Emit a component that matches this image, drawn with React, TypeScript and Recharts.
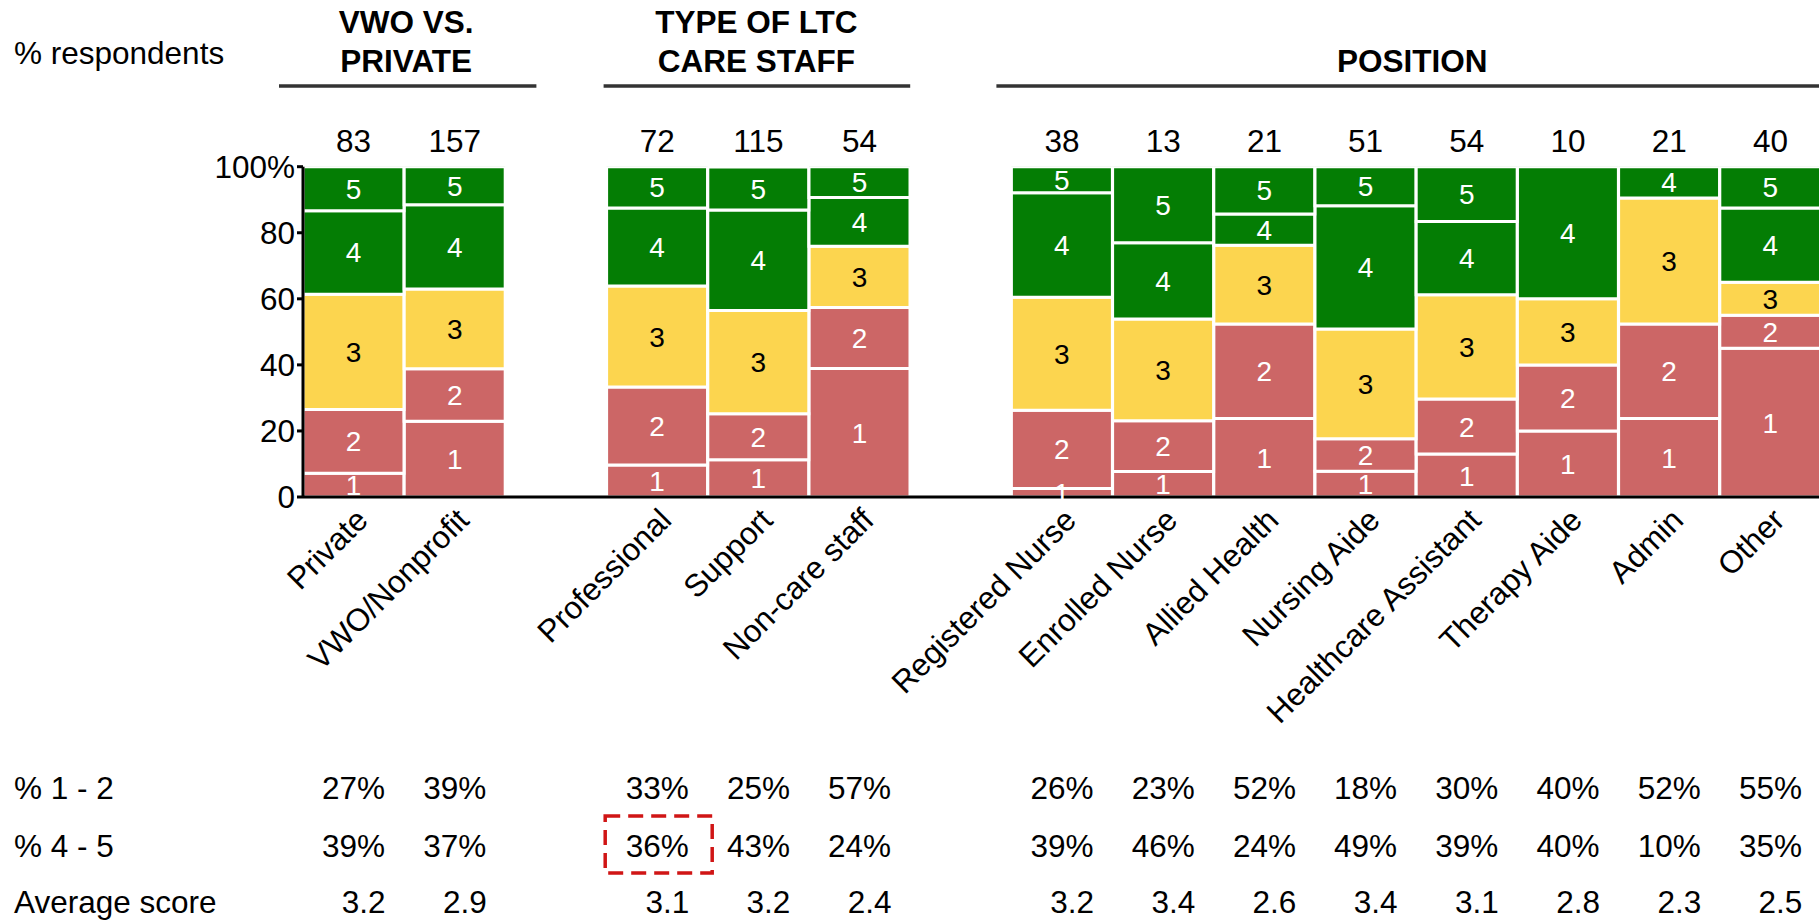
import React from 'react';
import { ComposedChart, Bar, Line, XAxis, YAxis, LabelList } from 'recharts';

// ---------- data ----------
const CATEGORIES = ['Private', 'VWO/Nonprofit', '', 'Professional', 'Support', 'Non-care staff', '', 'Registered Nurse', 'Enrolled Nurse', 'Allied Health', 'Nursing Aide', 'Healthcare Assistant', 'Therapy Aide', 'Admin', 'Other'];
const RESPONDENTS = [83, 157, null, 72, 115, 54, null, 38, 13, 21, 51, 54, 10, 21, 40];
const SCORE_1 = [7.2, 22.9, null, 9.7, 11.3, 38.9, null, 2.6, 7.7, 23.8, 7.8, 13.0, 20, 23.8, 45];
const SCORE_2 = [19.3, 15.9, null, 23.6, 13.9, 18.5, null, 23.7, 15.4, 28.6, 9.8, 16.7, 20, 28.6, 10];
const SCORE_3 = [34.9, 24.2, null, 30.6, 31.3, 18.5, null, 34.2, 30.8, 23.8, 33.3, 31.5, 20, 38.1, 10];
const SCORE_4 = [25.3, 25.5, null, 23.6, 30.4, 14.8, null, 31.6, 23.1, 9.5, 37.3, 22.2, 40, 9.5, 22.5];
const SCORE_5 = [13.3, 11.5, null, 12.5, 13.0, 9.3, null, 7.9, 23.0, 14.3, 11.8, 16.6, 0, 0, 12.5];
const PCT_1_2 = ['27%', '39%', null, '33%', '25%', '57%', null, '26%', '23%', '52%', '18%', '30%', '40%', '52%', '55%'];
const PCT_4_5 = ['39%', '37%', null, '36%', '43%', '24%', null, '39%', '46%', '24%', '49%', '39%', '40%', '10%', '35%'];
const AVG_SCORE = ['3.2', '2.9', null, '3.1', '3.2', '2.4', null, '3.2', '3.4', '2.6', '3.4', '3.1', '2.8', '2.3', '2.5'];
const Y_TICKS = [0, 20, 40, 60, 80, 100];
const GROUPS = [
  { title: ['VWO VS.', 'PRIVATE'], from: 0, to: 1, padL: 24, padR: 31, shift: 2 },
  { title: ['TYPE OF LTC', 'CARE STAFF'], from: 3, to: 5, padL: 3, padR: 0, shift: -2 },
  { title: ['POSITION'], from: 7, to: 14, padL: 15, padR: 20, shift: -4 },
];
const ROW_LABELS = ['% 1 - 2', '% 4 - 5', 'Average score'];
const HIGHLIGHT_INDEX = 3;

const data = CATEGORIES.map((name, i) => ({
  name,
  s1: SCORE_1[i],
  s2: SCORE_2[i],
  s3: SCORE_3[i],
  s4: SCORE_4[i],
  s5: SCORE_5[i],
  n: RESPONDENTS[i],
  top: RESPONDENTS[i] == null ? null : 100,
  p12: PCT_1_2[i],
  p45: PCT_4_5[i],
  avg: AVG_SCORE[i],
}));

// ---------- layout ----------
const W = 1830;
const H = 920;
const PLOT_LEFT = 303;
const PLOT_TOP = 166.7;
const PLOT_BOTTOM = 497;
const MARGIN_RIGHT = 9;
const XAXIS_H = 100;
const SLOT = (W - MARGIN_RIGHT - PLOT_LEFT) / CATEGORIES.length;
const ROW_Y = [799, 857, 913];
const FONT = 31.5;

const GREEN = '#047d04';
const YELLOW = '#fcd54f';
const RED = '#cc6666';

const segLabel = (color: string, text: string) => (props: any) => {
  const { x, y, width, height, value } = props;
  if (!value) return null;
  return (
    <text x={x + width / 2} y={y + height / 2} dy="0.36em" textAnchor="middle" fill={color} fontSize={28}>
      {text}
    </text>
  );
};

const XTick = (props: any) => {
  const { x, payload } = props;
  if (!payload || !payload.value) return null;
  const ax = x + 16;
  const ay = PLOT_BOTTOM + 25;
  return (
    <text x={ax} y={ay} transform={`rotate(-45, ${ax}, ${ay})`} textAnchor="end" fontSize={FONT} fill="#000">
      {payload.value}
    </text>
  );
};

const countLabel = (props: any) => {
  const { x, y, value } = props;
  if (value == null) return null;
  return (
    <text x={x} y={y - 15} textAnchor="middle" fontSize={FONT} fill="#000">{value}</text>
  );
};

const rowLabel = (row: number) => (props: any) => {
  const { x, value, index } = props;
  if (value == null) return null;
  const isAvg = row === 2;
  return (
    <g>
      <text x={isAvg ? x + 32 : x} y={ROW_Y[row]} textAnchor={isAvg ? 'end' : 'middle'} fontSize={FONT} fill="#000">
        {value}
      </text>
      {row === 1 && index === HIGHLIGHT_INDEX ? (
        <rect x={x - 52} y={816} width={107} height={57} fill="none" stroke="#d01515" strokeWidth={3.5} strokeDasharray="15 8" />
      ) : null}
    </g>
  );
};

export default function App() {
  return (
    <div
      style={{
        position: 'absolute',
        left: 0,
        top: 0,
        width: 1819,
        height: 920,
        overflow: 'hidden',
        background: '#fff',
        fontFamily: '"Liberation Sans", Arial, sans-serif',
      }}
    >
      <ComposedChart
        width={W}
        height={H}
        data={data}
        margin={{ top: PLOT_TOP, right: MARGIN_RIGHT, bottom: H - PLOT_BOTTOM - XAXIS_H, left: 0 }}
        barCategoryGap={0}
        barGap={0}
      >
        <YAxis
          width={PLOT_LEFT}
          domain={[0, 100]}
          allowDataOverflow
          ticks={Y_TICKS}
          tickFormatter={(v: number) => (v === 100 ? '100%' : String(v))}
          tick={{ fontSize: FONT, fill: '#000' }}
          axisLine={{ stroke: '#000', strokeWidth: 3 }}
          tickLine={{ stroke: '#000', strokeWidth: 3 }}
          tickSize={6}
          tickMargin={2}
        />
        <Bar dataKey="s1" stackId="a" fill={RED} stroke="#fff" strokeWidth={3} isAnimationActive={false}>
          <LabelList dataKey="s1" content={segLabel('#fff', '1')} />
        </Bar>
        <Bar dataKey="s2" stackId="a" fill={RED} stroke="#fff" strokeWidth={3} isAnimationActive={false}>
          <LabelList dataKey="s2" content={segLabel('#fff', '2')} />
        </Bar>
        <Bar dataKey="s3" stackId="a" fill={YELLOW} stroke="#fff" strokeWidth={3} isAnimationActive={false}>
          <LabelList dataKey="s3" content={segLabel('#000', '3')} />
        </Bar>
        <Bar dataKey="s4" stackId="a" fill={GREEN} stroke="#fff" strokeWidth={3} isAnimationActive={false}>
          <LabelList dataKey="s4" content={segLabel('#fff', '4')} />
        </Bar>
        <Bar dataKey="s5" stackId="a" fill={GREEN} stroke="#fff" strokeWidth={3} isAnimationActive={false}>
          <LabelList dataKey="s5" content={segLabel('#fff', '5')} />
        </Bar>
        <Line dataKey="top" stroke="none" dot={false} activeDot={false} isAnimationActive={false} legendType="none">
          <LabelList dataKey="n" content={countLabel} />
          <LabelList dataKey="p12" content={rowLabel(0)} />
          <LabelList dataKey="p45" content={rowLabel(1)} />
          <LabelList dataKey="avg" content={rowLabel(2)} />
        </Line>
        <XAxis
          dataKey="name"
          height={XAXIS_H}
          tick={<XTick />}
          tickLine={false}
          interval={0}
          axisLine={{ stroke: '#000', strokeWidth: 3 }}
        />
      </ComposedChart>
      <svg
        width={1819}
        height={920}
        style={{ position: 'absolute', left: 0, top: 0, pointerEvents: 'none' }}
      >
        <text x={14} y={64} fontSize={FONT} fill="#000">% respondents</text>
        {ROW_LABELS.map((t, i) => (
          <text key={t} x={14} y={ROW_Y[i]} fontSize={FONT} fill="#000">{t}</text>
        ))}
        {GROUPS.map((g) => {
          const left = PLOT_LEFT + g.from * SLOT - g.padL;
          const right = PLOT_LEFT + (g.to + 1) * SLOT + g.padR;
          const cx = PLOT_LEFT + ((g.from + g.to + 1) / 2) * SLOT + g.shift;
          const lines = g.title;
          return (
            <g key={lines.join(' ')}>
              {lines.map((t, j) => (
                <text
                  key={t}
                  x={cx}
                  y={lines.length === 2 ? (j === 0 ? 33 : 72) : 72}
                  textAnchor="middle"
                  fontSize={FONT}
                  fontWeight="bold"
                  fill="#000"
                >
                  {t}
                </text>
              ))}
              <line x1={left} x2={right} y1={86} y2={86} stroke="#333" strokeWidth={3.5} />
            </g>
          );
        })}
      </svg>
    </div>
  );
}
